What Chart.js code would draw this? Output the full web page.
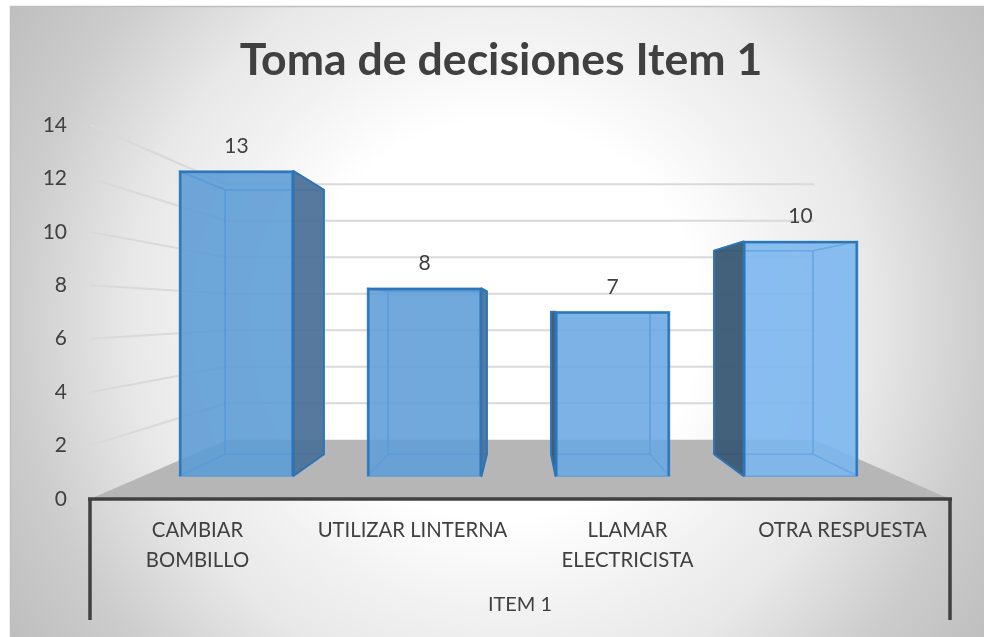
<!DOCTYPE html>
<html><head><meta charset="utf-8">
<style>html,body{margin:0;padding:0;background:#fff}canvas{display:block}</style>
<script src="https://cdn.jsdelivr.net/npm/chart.js@4"></script>
</head><body>
<canvas id="c" width="984" height="637"></canvas>
<script>
const categories = [["CAMBIAR","BOMBILLO"],"UTILIZAR LINTERNA",["LLAMAR","ELECTRICISTA"],"OTRA RESPUESTA"];
const values = [13, 8, 7, 10];
const titleText = "Toma de decisiones Item 1";
const axisTitle = "ITEM 1";
const wallTicks = [0, 2, 4, 6, 8, 10, 12, 14];

const FONT = "Lato, 'Open Sans', sans-serif";
const TEXT = "#404040";
const frontColors = ["rgba(91,155,213,.5)","rgba(95,158,216,.5)","rgba(106,168,226,.5)","rgba(122,182,240,.5)"];
const backColors = ["rgba(91,155,213,.76)","rgba(95,158,216,.76)","rgba(106,168,226,.76)","rgba(122,182,240,.76)"];
const VP = {x: 522, y: 312};
const K_BAR = 0.867, K_WALL = 0.683;
const proj = (x, y, k) => [VP.x + k * (x - VP.x), VP.y + k * (y - VP.y)];

function poly(ctx, pts, fill, stroke, lw) {
  ctx.beginPath();
  pts.forEach((p, i) => i ? ctx.lineTo(p[0], p[1]) : ctx.moveTo(p[0], p[1]));
  ctx.closePath();
  if (fill) { ctx.fillStyle = fill; ctx.fill(); }
  if (stroke) { ctx.strokeStyle = stroke; ctx.lineWidth = lw; ctx.lineJoin = "round"; ctx.stroke(); }
}

const scene = {
  id: "scene",
  beforeDraw(chart) {
    const ctx = chart.ctx;
    const g = ctx.createRadialGradient(500, 320, 0, 500, 320, 640);
    g.addColorStop(0, "#ffffff");
    g.addColorStop(0.31, "#ffffff");
    g.addColorStop(0.45, "#f2f2f2");
    g.addColorStop(0.58, "#e8e8e8");
    g.addColorStop(0.63, "#e0e0e0");
    g.addColorStop(0.76, "#cccccc");
    g.addColorStop(1, "#b6b6b6");
    ctx.save();
    ctx.fillStyle = g;
    ctx.fillRect(10, 6, 974, 631);
    ctx.strokeStyle = "#bfbfbf";
    ctx.lineWidth = 1.5;
    ctx.beginPath();
    ctx.moveTo(10.5, 637); ctx.lineTo(10.5, 6.5); ctx.lineTo(984, 6.5);
    ctx.stroke();
    ctx.restore();
  },
  beforeDatasetsDraw(chart) {
    const ctx = chart.ctx, a = chart.chartArea, y = chart.scales.y;
    ctx.save();
    // walls
    ctx.strokeStyle = "#d9d9d9";
    ctx.lineWidth = 2;
    wallTicks.forEach(v => {
      if (v === 0) return;
      const py = y.getPixelForValue(v);
      const l = proj(a.left, py, K_WALL), r = proj(a.right, py, K_WALL);
      ctx.beginPath();
      ctx.moveTo(a.left, py); ctx.lineTo(l[0], l[1]); ctx.lineTo(r[0], r[1]);
      ctx.stroke();
    });
    // floor
    const b = y.getPixelForValue(0);
    poly(ctx, [[a.left, b], proj(a.left, b, K_WALL), proj(a.right, b, K_WALL), [a.right, b]], "#b6b6b6");
    // box faces behind the front face
    const meta = chart.getDatasetMeta(0);
    meta.data.forEach((bar, i) => {
      const p = bar.getProps(["x", "y", "base", "width"], true);
      const L = p.x - p.width / 2, R = p.x + p.width / 2, T = p.y, B = p.base;
      const fTL = [L, T], fTR = [R, T], fBL = [L, B], fBR = [R, B];
      const bTL = proj(L, T, K_BAR), bTR = proj(R, T, K_BAR), bBL = proj(L, B, K_BAR), bBR = proj(R, B, K_BAR);
      const edge = "#5a9bd8", dark = "#2e75b6", fill = backColors[i];
      const leftOuter = bTL[0] < L;
      const rightOuter = bTR[0] > R;
      if (!leftOuter) poly(ctx, [fTL, bTL, bBL, fBL], fill, edge, 1.5);
      if (!rightOuter) poly(ctx, [fTR, bTR, bBR, fBR], fill, edge, 1.5);
      poly(ctx, [fTL, bTL, bTR, fTR], fill, edge, 1.5);
      poly(ctx, [fBL, bBL, bBR, fBR], fill, edge, 1.5);
      poly(ctx, [bTL, bTR, bBR, bBL], fill, edge, 1.5);
      if (leftOuter) poly(ctx, [fTL, bTL, bBL, fBL], "rgba(53,79,102,.85)", dark, 2);
      if (rightOuter) poly(ctx, [fTR, bTR, bBR, fBR], "rgba(72,101,136,.75)", dark, 2);
    });
    ctx.restore();
  },
  afterDatasetsDraw(chart) {
    const ctx = chart.ctx, a = chart.chartArea;
    ctx.save();
    // value labels
    ctx.fillStyle = TEXT;
    ctx.font = "21px " + FONT;
    ctx.textAlign = "center";
    ctx.textBaseline = "middle";
    chart.getDatasetMeta(0).data.forEach((bar, i) => {
      ctx.fillText(String(values[i]), bar.x, bar.y - 25);
    });
    // category frame
    ctx.strokeStyle = "#404040";
    ctx.lineWidth = 3.5;
    ctx.lineCap = "butt";
    ctx.beginPath();
    ctx.moveTo(a.left - 2, a.bottom); ctx.lineTo(a.right + 2, a.bottom);
    ctx.moveTo(a.left, a.bottom); ctx.lineTo(a.left, a.bottom + 121);
    ctx.moveTo(a.right, a.bottom); ctx.lineTo(a.right, a.bottom + 121);
    ctx.stroke();
    ctx.restore();
  }
};

new Chart(document.getElementById("c"), {
  type: "bar",
  data: {
    labels: categories,
    datasets: [{
      data: values.map((v, i) => ({x: i + 0.5, y: v})),
      xAxisID: "x2",
      yAxisID: "y2",
      backgroundColor: frontColors,
      borderColor: "#2e75b6",
      borderWidth: 2,
      barThickness: 114
    }]
  },
  plugins: [scene],
  options: {
    responsive: false,
    animation: false,
    layout: {padding: {left: 18, right: 0, top: 0, bottom: 0}},
    plugins: {
      legend: {display: false},
      tooltip: {enabled: false},
      title: {
        display: true,
        text: titleText,
        color: TEXT,
        font: {family: FONT, size: 44.6, weight: "bold", lineHeight: 1.2},
        padding: {top: 34, bottom: 37.5}
      }
    },
    scales: {
      x: {
        type: "category",
        offset: true,
        grid: {display: false},
        border: {display: false},
        ticks: {color: TEXT, font: {family: FONT, size: 20.3, lineHeight: 1.45}, padding: 9, maxRotation: 0, minRotation: 0, autoSkip: false},
        title: {display: true, text: axisTitle, color: TEXT, font: {family: FONT, size: 20}, padding: {top: 0, bottom: 20}},
        afterFit(s) { s.height = 138; }
      },
      y: {
        type: "linear",
        min: 0, max: 14,
        grid: {display: false},
        border: {display: false},
        ticks: {stepSize: 2, color: TEXT, font: {family: FONT, size: 21}, padding: 15},
        afterFit(s) { s.width = 72; }
      },
      x2: {type: "linear", axis: "x", display: false, offset: false, min: -0.279, max: 4.295},
      y2: {
        type: "linear",
        axis: "y",
        position: "right",
        min: -0.98, max: 14.96,
        grid: {display: false},
        border: {display: false},
        ticks: {display: false},
        afterFit(s) { s.width = 34; }
      }
    }
  }
});
</script>
</body></html>
